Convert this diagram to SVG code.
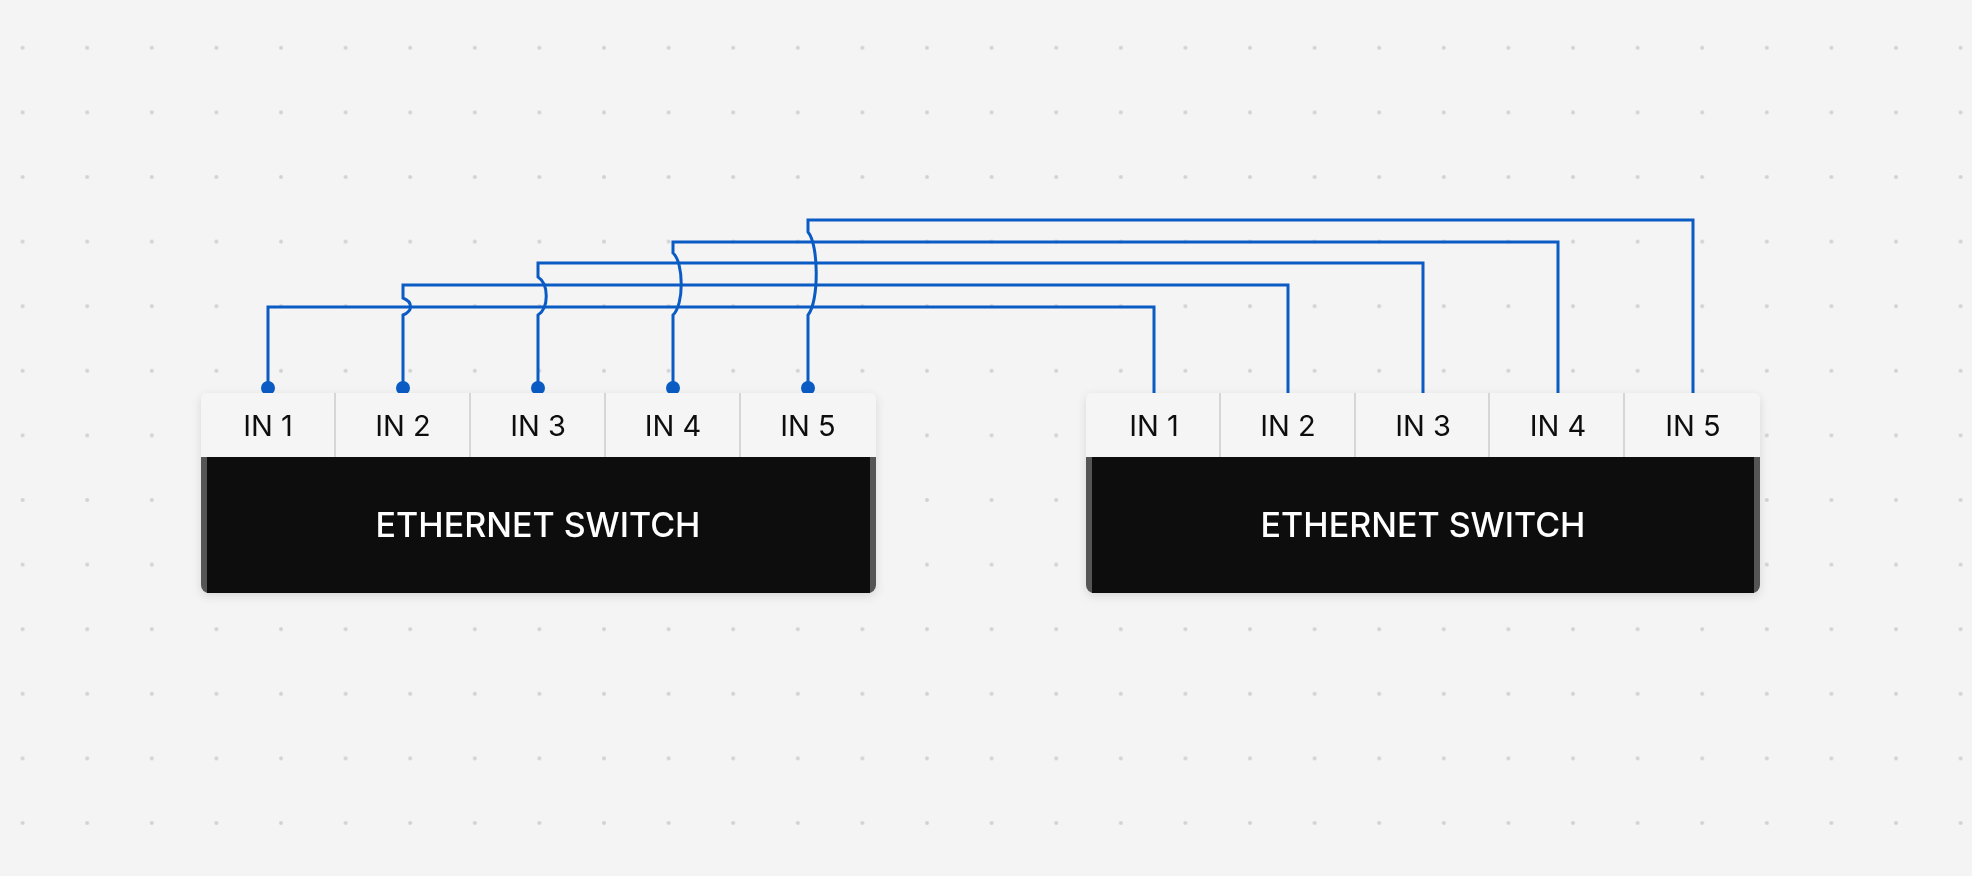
<svg xmlns="http://www.w3.org/2000/svg" width="1972" height="876" viewBox="0 0 1972 876">
<defs>
<pattern id="grid" x="22.6" y="47.8" width="64.6" height="64.6" patternUnits="userSpaceOnUse">
<circle cx="0" cy="0" r="2" fill="#d2d2d2"/><circle cx="64.6" cy="0" r="2" fill="#d2d2d2"/><circle cx="0" cy="64.6" r="2" fill="#d2d2d2"/><circle cx="64.6" cy="64.6" r="2" fill="#d2d2d2"/>
</pattern>
<filter id="sh" x="-10%" y="-10%" width="120%" height="130%"><feDropShadow dx="0" dy="3" stdDeviation="5" flood-color="#000" flood-opacity="0.12"/></filter>
</defs>
<style>
.wire{fill:none;stroke:#0a5bc4;stroke-width:3}
.dot{fill:#0a5bc4}
.port{fill:#f5f5f5}
.div{stroke:#d6d6d6;stroke-width:2}
.pl{font-family:Inter,"Liberation Sans",sans-serif;font-size:29px;fill:#111;text-anchor:middle}
.tl{font-family:Inter,"Liberation Sans",sans-serif;font-size:34px;font-weight:500;fill:#fff;text-anchor:middle}
</style>
<rect width="1972" height="876" fill="#f4f4f4"/>
<rect width="1972" height="876" fill="url(#grid)"/>
<g id="connectors">
<path class="wire" d="M268 387V307H1154V393"/>
<path class="wire" d="M403 387V315C413 311 413 302 403 298V285H1288V393"/>
<path class="wire" d="M538 387V315C549 308 549 284 538 277V263H1423V393"/>
<path class="wire" d="M673 387V315C684 305 684 263 673 253V242H1558V393"/>
<path class="wire" d="M808 387V315C819 302 819 245 808 232V220H1693V393"/>
<circle class="dot" cx="268" cy="388" r="7"/>
<circle class="dot" cx="403" cy="388" r="7"/>
<circle class="dot" cx="538" cy="388" r="7"/>
<circle class="dot" cx="673" cy="388" r="7"/>
<circle class="dot" cx="808" cy="388" r="7"/>
</g>
<g id="switch-left" filter="url(#sh)">
<path d="M201 457H876V585a8 8 0 0 1-8 8H209a8 8 0 0 1-8-8Z" fill="#555"/>
<rect x="207" y="457" width="663" height="136" fill="#111"/>
<path class="port" d="M207 393H870a6 6 0 0 1 6 6V457H201V399a6 6 0 0 1 6-6Z"/>
<line class="div" x1="335" y1="393" x2="335" y2="457"/>
<line class="div" x1="470" y1="393" x2="470" y2="457"/>
<line class="div" x1="605" y1="393" x2="605" y2="457"/>
<line class="div" x1="740" y1="393" x2="740" y2="457"/>
<text class="pl" x="268" y="436">IN 1</text>
<text class="pl" x="403" y="436">IN 2</text>
<text class="pl" x="538" y="436">IN 3</text>
<text class="pl" x="673" y="436">IN 4</text>
<text class="pl" x="808" y="436">IN 5</text>
<text class="tl" x="538" y="537">ETHERNET SWITCH</text>
</g>
<g id="switch-right" filter="url(#sh)">
<path d="M1086 457H1760V585a8 8 0 0 1-8 8H1094a8 8 0 0 1-8-8Z" fill="#555"/>
<rect x="1092" y="457" width="662" height="136" fill="#111"/>
<path class="port" d="M1092 393H1754a6 6 0 0 1 6 6V457H1086V399a6 6 0 0 1 6-6Z"/>
<line class="div" x1="1220" y1="393" x2="1220" y2="457"/>
<line class="div" x1="1355" y1="393" x2="1355" y2="457"/>
<line class="div" x1="1489" y1="393" x2="1489" y2="457"/>
<line class="div" x1="1624" y1="393" x2="1624" y2="457"/>
<text class="pl" x="1154" y="436">IN 1</text>
<text class="pl" x="1288" y="436">IN 2</text>
<text class="pl" x="1423" y="436">IN 3</text>
<text class="pl" x="1558" y="436">IN 4</text>
<text class="pl" x="1693" y="436">IN 5</text>
<text class="tl" x="1423" y="537">ETHERNET SWITCH</text>
</g>
</svg>
